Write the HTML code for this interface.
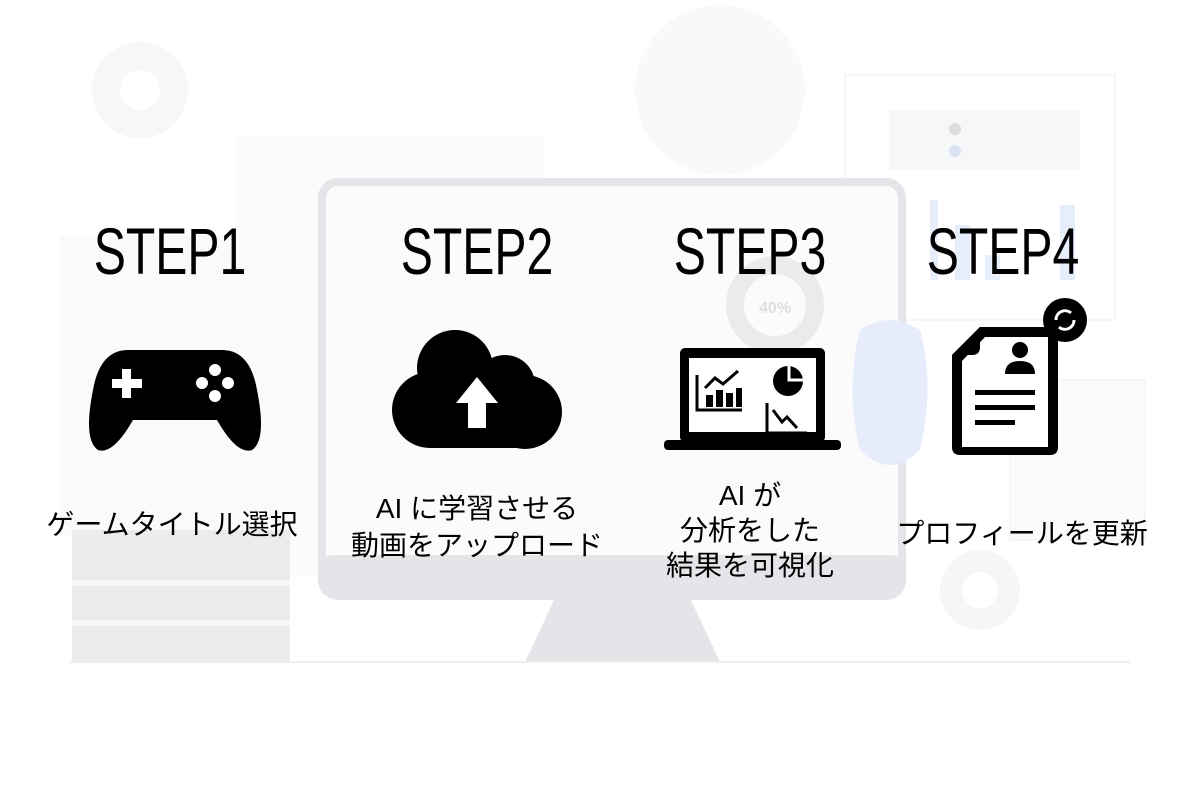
<!DOCTYPE html>
<html><head><meta charset="utf-8"><style>
html,body{margin:0;padding:0;background:#fff;width:1200px;height:800px;overflow:hidden}
svg{display:block}
.st{font-family:"Liberation Sans",sans-serif;font-size:66px;fill:#000}
.jp{font-family:"Liberation Sans","Noto Sans CJK JP",sans-serif;font-size:28px;fill:#000}
</style></head><body>
<svg width="1200" height="800" viewBox="0 0 1200 800" xmlns="http://www.w3.org/2000/svg">
<!-- faint background -->
<circle cx="140" cy="90" r="48" fill="#f6f7f8"/><circle cx="140" cy="90" r="20" fill="#fff"/>
<circle cx="720" cy="90" r="85" fill="#f9f9fa"/>
<rect x="235" y="135" width="310" height="440" fill="#fbfbfc"/>
<rect x="60" y="235" width="260" height="300" fill="#fafafb"/>
<rect x="845" y="75" width="270" height="245" fill="#fff" stroke="#eceef0"/>
<rect x="890" y="110" width="190" height="60" fill="#f6f7f8"/>
<circle cx="955" cy="129" r="6" fill="#ddd"/><circle cx="955" cy="151" r="6" fill="#dbe4f7"/>
<rect x="930" y="200" width="8" height="80" fill="#e6edfb"/><rect x="955" y="225" width="15" height="55" fill="#e6edfb"/>
<rect x="985" y="255" width="15" height="25" fill="#e6edfb"/><rect x="1060" y="205" width="15" height="75" fill="#e6edfb"/>
<rect x="1010" y="380" width="135" height="160" fill="#fbfbfb" stroke="#f0f0f0"/>
<circle cx="980" cy="590" r="40" fill="#f5f6f7"/><circle cx="980" cy="590" r="18" fill="#fff"/>
<!-- monitor -->
<rect x="322" y="182" width="580" height="414" rx="16" fill="#fbfbfc" stroke="#e3e5e8" stroke-width="8"/>
<rect x="322" y="555" width="580" height="42" rx="10" fill="#e3e5e8"/>
<polygon points="555,598 690,598 720,662 525,662" fill="#e3e5e8"/>
<line x1="70" y1="662" x2="1130" y2="662" stroke="#eeeeee" stroke-width="2"/>
<circle cx="775" cy="305" r="40" fill="none" stroke="#eaebed" stroke-width="18"/>
<text x="775" y="313" font-family="Liberation Sans" font-size="16" font-weight="bold" fill="#ddd" text-anchor="middle">40%</text>
<path d="M860 330 q30 -20 60 0 q15 60 0 120 q-30 30 -60 0 q-15 -60 0 -120z" fill="#e6ecfb"/>
<!-- server rack -->
<rect x="72" y="530" width="218" height="132" fill="#eaecee"/>
<rect x="72" y="580" width="218" height="6" fill="#f6f7f8"/><rect x="72" y="620" width="218" height="6" fill="#f6f7f8"/>
<!-- STEP titles -->
<g class="st">
<text transform="translate(170 274) scale(0.73 1)" text-anchor="middle">STEP1</text>
<text transform="translate(477 274) scale(0.73 1)" text-anchor="middle">STEP2</text>
<text transform="translate(750 274) scale(0.73 1)" text-anchor="middle">STEP3</text>
<text transform="translate(1003 274) scale(0.73 1)" text-anchor="middle">STEP4</text>
</g>
<!-- gamepad -->
<path d="M128 350 h94 q28 0 35 40 q10 50 -5 60 q-15 5 -35 -30 h-84 q-20 35 -35 30 q-15 -10 -5 -60 q7 -40 35 -40z" fill="#000"/>
<rect x="112" y="379" width="30" height="9" fill="#fff"/><rect x="122" y="369" width="9" height="29" fill="#fff"/>
<circle cx="215" cy="370" r="6" fill="#fff"/><circle cx="215" cy="396" r="6" fill="#fff"/>
<circle cx="202" cy="383" r="6" fill="#fff"/><circle cx="228" cy="383" r="6" fill="#fff"/>
<!-- cloud -->
<g fill="#000"><circle cx="455" cy="368" r="38"/><circle cx="505" cy="385" r="30"/><circle cx="430" cy="410" r="38"/><circle cx="525" cy="412" r="37"/><rect x="430" y="390" width="95" height="58"/></g>
<polygon points="477,377 498,403 486,403 486,428 468,428 468,403 456,403" fill="#fff"/>
<!-- laptop -->
<rect x="680" y="348" width="145" height="94" rx="5" fill="#000"/><rect x="689" y="358" width="127" height="74" fill="#fff"/>
<rect x="664" y="440" width="177" height="10" rx="4" fill="#000"/>
<path d="M697 375 v35 h45" stroke="#000" stroke-width="3" fill="none"/>
<rect x="706" y="395" width="7" height="12" fill="#000"/><rect x="716" y="390" width="7" height="17" fill="#000"/><rect x="726" y="393" width="7" height="14" fill="#000"/><rect x="736" y="388" width="6" height="19" fill="#000"/>
<path d="M705 388 l10 -10 l8 6 l15 -13" stroke="#000" stroke-width="3" fill="none"/>
<circle cx="788" cy="381" r="15" fill="#000"/><path d="M789 366 v14 h15" stroke="#fff" stroke-width="3" fill="none"/>
<path d="M767 403 v30 h40" stroke="#000" stroke-width="3" fill="none"/><path d="M773 410 l9 12 l5 -5 l10 11" stroke="#000" stroke-width="3" fill="none"/>
<!-- document -->
<path d="M980 327 h70 q8 0 8 8 v112 q0 8 -8 8 h-90 q-8 0 -8 -8 v-92z" fill="#000"/>
<path d="M985 337 h63 v110 h-86 v-86z" fill="#fff"/>
<path d="M952 355 l28 -28 v20 q0 8 -8 8z" fill="#000"/>
<circle cx="1020" cy="350" r="8" fill="#000"/><path d="M1005 374 q0 -13 15 -13 q15 0 15 13z" fill="#000"/>
<rect x="975" y="390" width="60" height="5" fill="#000"/><rect x="975" y="405" width="60" height="5" fill="#000"/><rect x="975" y="420" width="40" height="5" fill="#000"/>
<circle cx="1065" cy="320" r="22" fill="#000"/>
<path d="M1056 320 a9 9 0 0 1 15 -7 M1074 320 a9 9 0 0 1 -15 7" stroke="#fff" stroke-width="3" fill="none"/>
<!-- labels -->
<g class="jp" text-anchor="middle">
<text x="172" y="534">ゲームタイトル選択</text>
<text x="477" y="518">AI に学習させる</text>
<text x="477" y="555">動画をアップロード</text>
<text x="750" y="505">AI が</text>
<text x="750" y="540">分析をした</text>
<text x="750" y="575">結果を可視化</text>
<text x="1022" y="543">プロフィールを更新</text>
</g>
</svg>
</body></html>
